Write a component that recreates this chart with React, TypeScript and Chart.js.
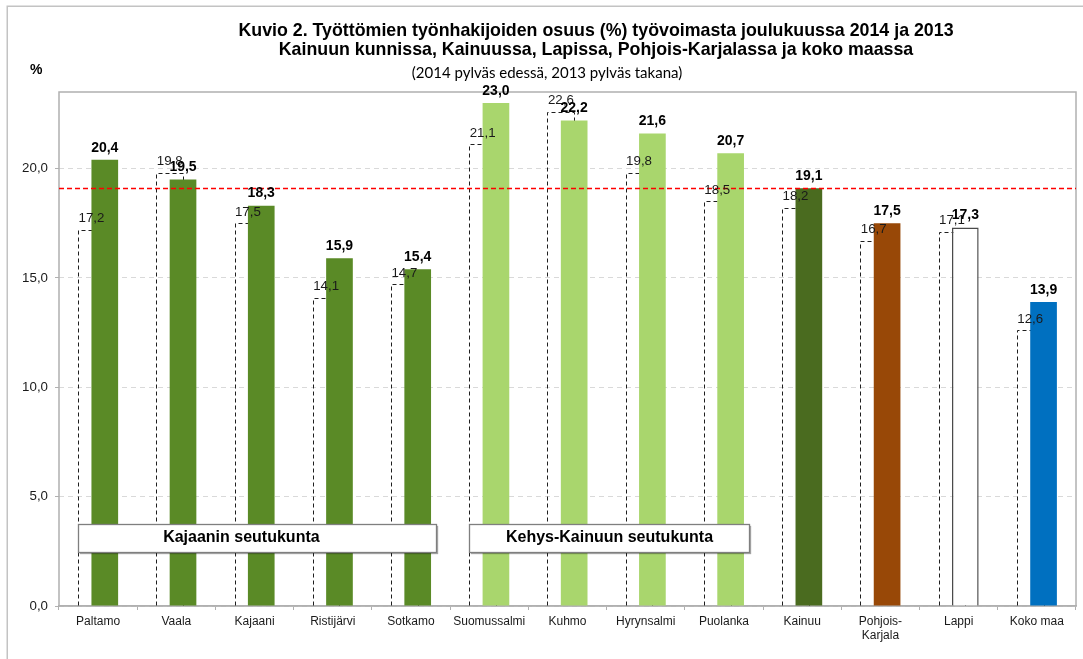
import React, { useEffect, useRef } from 'react';
import { Chart, registerables } from 'chart.js';

Chart.register(...registerables);

// ---------- data ----------
const categories: (string | string[])[] = [
  'Paltamo', 'Vaala', 'Kajaani', 'Ristijärvi', 'Sotkamo',
  'Suomussalmi', 'Kuhmo', 'Hyrynsalmi', 'Puolanka',
  'Kainuu', ['Pohjois-', 'Karjala'], 'Lappi', 'Koko maa',
];
const values2014 = [20.4, 19.5, 18.3, 15.9, 15.4, 23.0, 22.2, 21.6, 20.7, 19.1, 17.5, 17.3, 13.9];
const values2013 = [17.2, 19.8, 17.5, 14.1, 14.7, 21.1, 22.6, 19.8, 18.5, 18.2, 16.7, 17.1, 12.6];
const yTickValues = [0, 5, 10, 15, 20];
const yMax = 23.5;
const referenceCategory = 'Kainuu';
const groupLabels = ['Kajaanin seutukunta', 'Kehys-Kainuun seutukunta'];
const groupFirst = [0, 5];
const groupLast = [4, 8];
const titleLines = [
  'Kuvio 2. Työttömien työnhakijoiden osuus (%) työvoimasta joulukuussa 2014 ja 2013',
  'Kainuun kunnissa, Kainuussa, Lapissa, Pohjois-Karjalassa ja koko maassa',
];
const subtitle = '(2014 pylväs edessä, 2013 pylväs takana)';
const yUnit = '%';

// ---------- styles ----------
const FONT = '"Liberation Sans", Arial, sans-serif';
const DARK = '#5a8a26';
const LIGHT = '#a9d66d';
const colors2014 = [DARK, DARK, DARK, DARK, DARK, LIGHT, LIGHT, LIGHT, LIGHT, '#4a6b1f', '#984807', '#ffffff', '#0070c0'];
const borders2014 = [0, 0, 0, 0, 0, 0, 0, 0, 0, 0, 0, 1.5, 0];

const fmt = (v: number) => v.toFixed(1).replace('.', ',');

const decorPlugin = {
  id: 'decor',
  beforeDraw(chart: any) {
    const { ctx, width, height } = chart;
    ctx.save();
    ctx.fillStyle = '#ffffff';
    ctx.fillRect(0, 0, width, height);
    ctx.strokeStyle = '#c3c3c3';
    ctx.lineWidth = 1.5;
    ctx.beginPath();
    ctx.moveTo(7.25, height);
    ctx.lineTo(7.25, 6.25);
    ctx.lineTo(width, 6.25);
    ctx.stroke();
    ctx.restore();
  },
  beforeDatasetsDraw(chart: any) {
    const { ctx, chartArea: a } = chart;
    ctx.save();
    ctx.strokeStyle = '#b0b0b0';
    ctx.lineWidth = 1.5;
    ctx.strokeRect(a.left, a.top, a.right - a.left, a.bottom - a.top);
    ctx.restore();
  },
  beforeDatasetDraw(chart: any, args: any) {
    if (args.index !== 1) return;
    // 2013 bars (behind): dashed outlines using the library's bar geometry
    const { ctx } = chart;
    const meta = chart.getDatasetMeta(0);
    ctx.save();
    ctx.setLineDash([4, 3]);
    ctx.strokeStyle = '#1e1e1e';
    ctx.lineWidth = 1;
    meta.data.forEach((bar: any) => {
      const { x, y, base, width } = bar.getProps(['x', 'y', 'base', 'width'], true);
      const l = Math.round(x - width / 2) + 0.5;
      const r = Math.round(x + width / 2) + 0.5;
      const t = Math.round(y) + 0.5;
      ctx.beginPath();
      ctx.moveTo(l, base);
      ctx.lineTo(l, t);
      ctx.lineTo(r, t);
      ctx.lineTo(r, base);
      ctx.stroke();
    });
    ctx.restore();
  },
  afterDatasetsDraw(chart: any) {
    const { ctx, chartArea: a, scales } = chart;
    const m13 = chart.getDatasetMeta(0);
    const m14 = chart.getDatasetMeta(1);

    // reference line (Kainuu 2014)
    const refVal = values2014[categories.indexOf(referenceCategory)];
    const ry = Math.round(scales.y.getPixelForValue(refVal)) + 0.5;
    ctx.save();
    ctx.setLineDash([5, 3]);
    ctx.strokeStyle = '#ff0000';
    ctx.lineWidth = 1.3;
    ctx.beginPath();
    ctx.moveTo(a.left, ry);
    ctx.lineTo(a.right, ry);
    ctx.stroke();
    ctx.restore();

    // value labels
    ctx.save();
    ctx.textAlign = 'center';
    ctx.textBaseline = 'alphabetic';
    ctx.fillStyle = '#1a1a1a';
    ctx.font = `13.3px ${FONT}`;
    m13.data.forEach((bar: any, i: number) => {
      ctx.fillText(fmt(values2013[i]), bar.x, bar.y - 7.7);
    });
    ctx.fillStyle = '#000000';
    ctx.font = `bold 14px ${FONT}`;
    m14.data.forEach((bar: any, i: number) => {
      ctx.fillText(fmt(values2014[i]), bar.x, bar.y - 8.3);
    });
    ctx.restore();

    // group boxes
    groupLabels.forEach((label, g) => {
      const b0 = m13.data[groupFirst[g]];
      const b1 = m14.data[groupLast[g]];
      const left = Math.round(b0.x - b0.width / 2) + 0.5;
      const right = Math.round(b1.x + b1.width / 2 + 5) + 0.5;
      const top = Math.round(a.bottom - 82.5) + 0.5;
      const h = 28;
      ctx.save();
      ctx.shadowColor = 'rgba(0,0,0,0.35)';
      ctx.shadowOffsetX = 1.5;
      ctx.shadowOffsetY = 1.5;
      ctx.shadowBlur = 1;
      ctx.fillStyle = '#ffffff';
      ctx.fillRect(left, top, right - left, h);
      ctx.restore();
      ctx.save();
      ctx.strokeStyle = '#7f7f7f';
      ctx.lineWidth = 1.3;
      ctx.strokeRect(left, top, right - left, h);
      ctx.fillStyle = '#000000';
      ctx.font = `bold 16px ${FONT}`;
      ctx.textAlign = 'center';
      ctx.textBaseline = 'alphabetic';
      const cx = g === 0 ? left + (right - left) * 0.455 : (left + right) / 2;
      ctx.fillText(label, cx, top + 17.7);
      ctx.restore();
    });
  },
  afterDraw(chart: any) {
    const { ctx } = chart;
    ctx.save();
    ctx.fillStyle = '#000000';
    ctx.textAlign = 'center';
    ctx.textBaseline = 'alphabetic';
    ctx.font = `bold 17.8px ${FONT}`;
    ctx.fillText(titleLines[0], 596, 35.5);
    ctx.fillText(titleLines[1], 596, 54.5);
    ctx.font = `15px Lato, "Open Sans", sans-serif`;
    ctx.fillText(subtitle, 547, 78);
    ctx.textAlign = 'left';
    ctx.font = `bold 14px ${FONT}`;
    ctx.fillText(yUnit, 30, 74);
    ctx.restore();
  },
};

export default function App() {
  const ref = useRef<HTMLCanvasElement | null>(null);

  useEffect(() => {
    if (!ref.current) return;
    const chart = new Chart(ref.current, {
      type: 'bar',
      data: {
        labels: categories as any,
        datasets: [
          {
            label: '2013',
            data: values2013,
            backgroundColor: 'rgba(0,0,0,0)',
            borderWidth: 0,
          },
          {
            label: '2014',
            data: values2014,
            backgroundColor: colors2014,
            borderColor: '#4a4a4a',
            borderWidth: borders2014,
          },
        ],
      },
      options: {
        responsive: false,
        animation: false,
        devicePixelRatio: 1,
        categoryPercentage: 0.341,
        barPercentage: 2,
        layout: { padding: { top: 92, right: 7, bottom: 0, left: 0 } },
        plugins: {
          legend: { display: false },
          title: { display: false },
          tooltip: { enabled: false },
        },
        scales: {
          x: {
            afterFit: (s: any) => { s.height = 53; },
            grid: {
              display: true,
              drawOnChartArea: false,
              drawTicks: true,
              tickLength: 4,
              tickColor: '#b0b0b0',
              tickWidth: 1,
            },
            border: { display: true, color: '#b0b0b0', width: 1.5 },
            ticks: {
              color: '#1a1a1a',
              font: { family: FONT, size: 12, lineHeight: 1.15 },
              padding: 5,
              maxRotation: 0,
              autoSkip: false,
            },
          },
          y: {
            min: 0,
            max: yMax,
            afterFit: (s: any) => { s.width = 59; },
            afterBuildTicks: (s: any) => { s.ticks = yTickValues.map((value) => ({ value })); },
            grid: {
              color: '#d9d9d9',
              lineWidth: 1,
              drawTicks: true,
              tickLength: 4,
              tickColor: '#b0b0b0',
              tickBorderDash: [],
            },
            border: { display: false, dash: [5, 4] },
            ticks: {
              color: '#1a1a1a',
              font: { family: FONT, size: 13.3 },
              padding: 7,
              callback: (v: any) => fmt(Number(v)),
            },
          },
        },
      },
      plugins: [decorPlugin],
    });
    return () => chart.destroy();
  }, []);

  return (
    <div style={{ position: 'fixed', left: 0, top: 0, width: 1083, height: 659, background: '#fff' }}>
      <canvas ref={ref} width={1083} height={659} style={{ display: 'block' }} />
    </div>
  );
}
